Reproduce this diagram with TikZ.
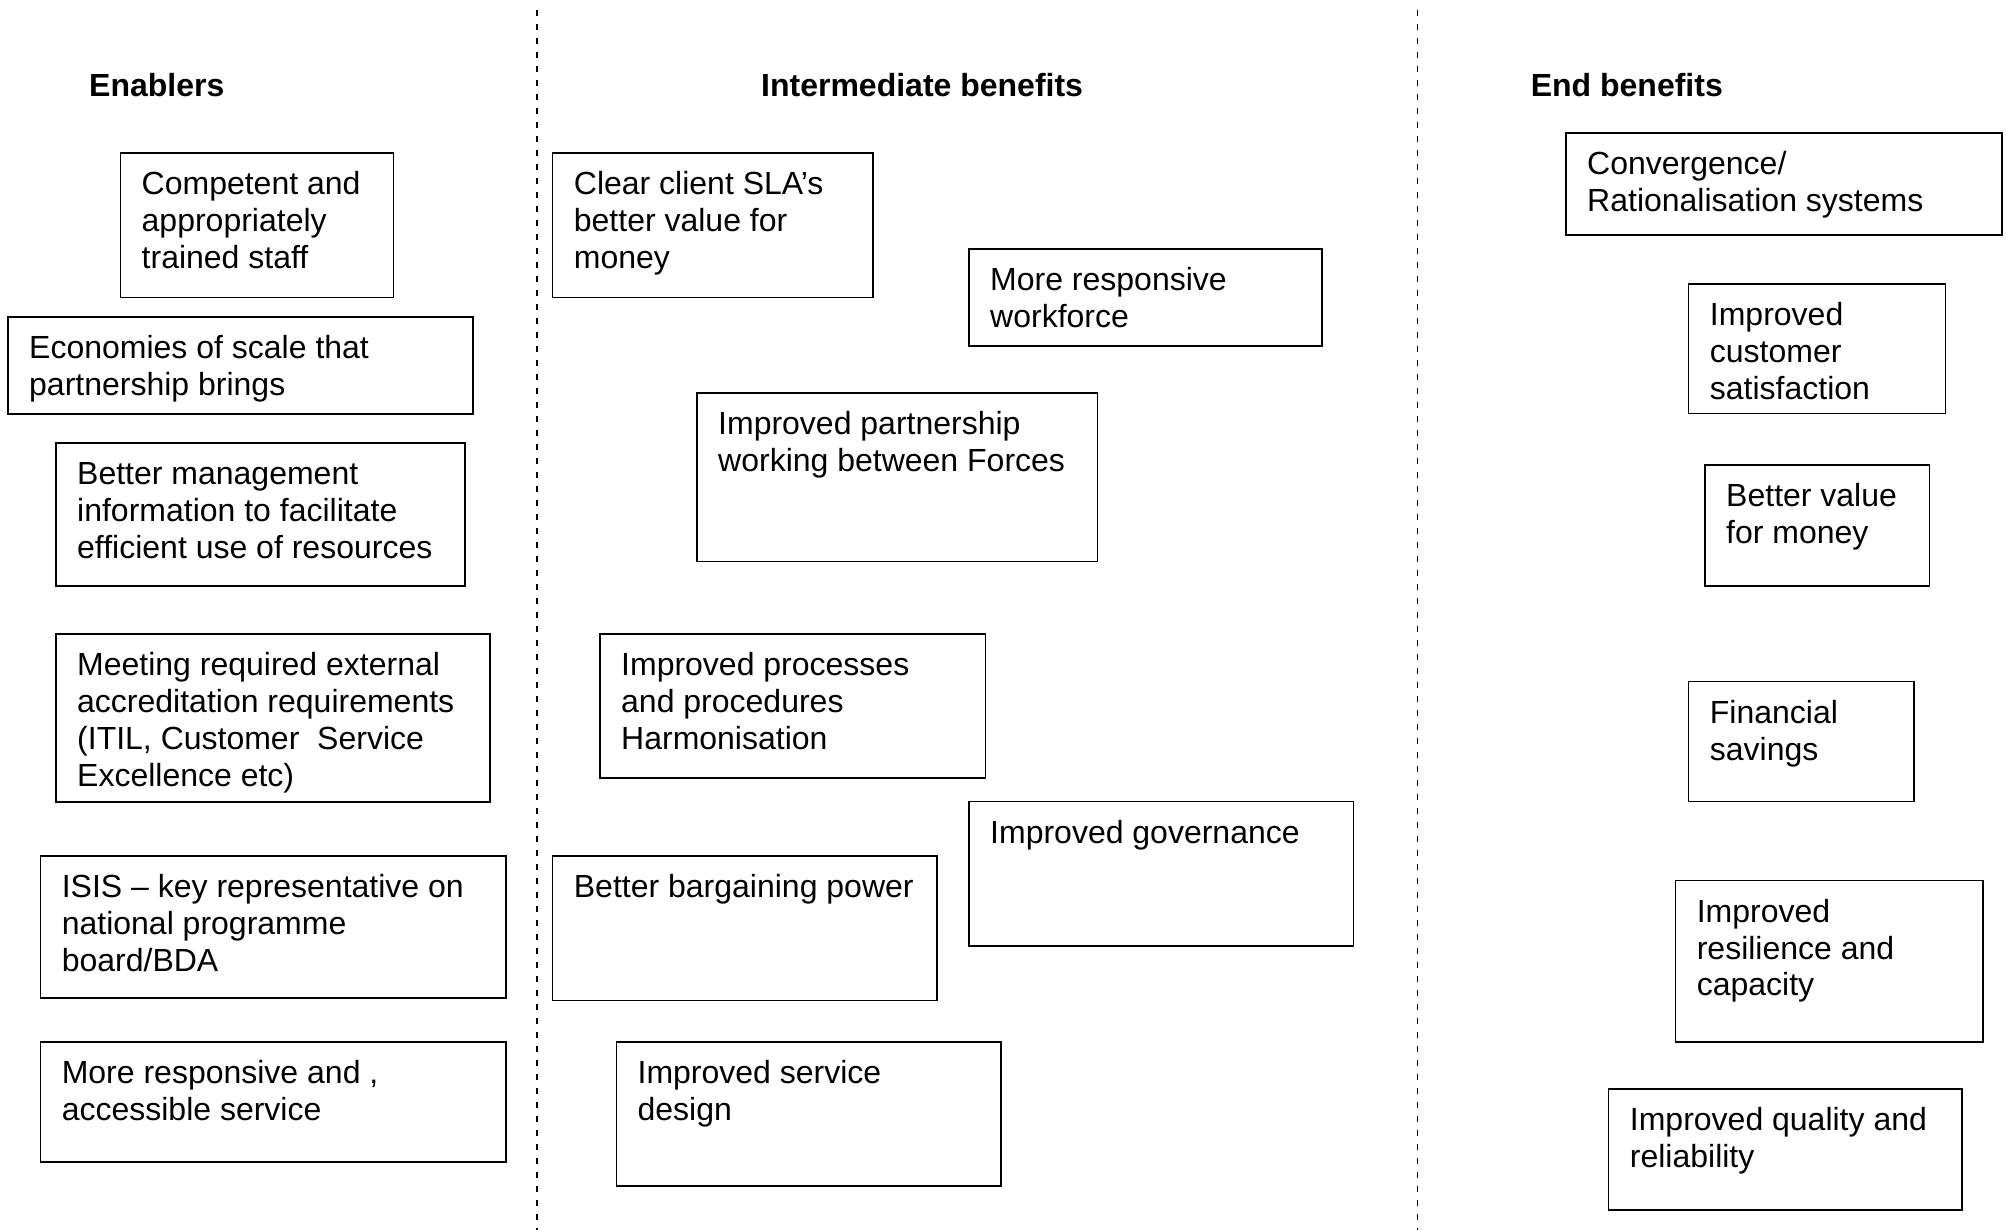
\documentclass[tikz,border=0pt]{standalone}
\usepackage{fontspec}
\setmainfont{Liberation Sans}
\begin{document}
\begin{tikzpicture}[x=1pt,y=-1pt,
  box/.style={draw, line width=1.5pt, inner sep=0pt, outer sep=0pt, anchor=north west},
  boxtext/.style={inner sep=0pt, align=left, anchor=north west,
    font=\fontsize{32}{36.8}\selectfont},
  heading/.style={inner sep=0pt, anchor=base west,
    font=\fontsize{32}{36.8}\selectfont\bfseries},
  divider/.style={line width=1.4pt, dash pattern=on 6pt off 8pt}]

% page area
\fill[white] (0,0) rectangle (2006,1230);
\useasboundingbox (0,0) rectangle (2006,1230);

% box with its text: name, left, top, right, bottom, text
% (the zero-width rule fixes the first line's height, so baselines sit alike)
\newcommand{\benefitbox}[6]{%
  \node[box, minimum width={#4-#2}, minimum height={#5-#3}] (#1) at (#2,#3) {};
  \node[boxtext] (#1-text) at (#2+21,#3+12.5) {\rule{0pt}{29pt}#6};
}

% column separators
\coordinate (sepA-top) at (537,10);
\coordinate (sepA-bot) at (537,1230);
\coordinate (sepB-top) at (1417.5,10);
\coordinate (sepB-bot) at (1417.5,1230);
\draw[divider] (sepA-top) -- (sepA-bot);
\draw[divider] (sepB-top) -- (sepB-bot);

% column headings
\node[heading] (head-enablers) at (89,97) {Enablers};
\node[heading] (head-intermediate) at (761,97) {Intermediate benefits};
\node[heading] (head-end) at (1530.6,97) {End benefits};

% enablers
\benefitbox{en1}{120.5}{153}{393.7}{297.7}{Competent and\\appropriately\\trained staff}
\benefitbox{en2}{8}{317}{473}{414}{Economies of scale that\\partnership brings}
\benefitbox{en3}{56}{443}{465}{586}{Better management\\information to facilitate\\efficient use of resources}
\benefitbox{en4}{56}{634}{490}{802}{Meeting required external\\accreditation requirements\\(ITIL, Customer~ Service\\Excellence etc)}
\benefitbox{en5}{40.6}{856}{505.8}{998}{ISIS -- key representative on\\national programme\\board/BDA}
\benefitbox{en6}{40.6}{1042}{505.8}{1162}{More responsive and ,\\accessible service}

% intermediate benefits
\benefitbox{im1}{552.7}{153}{873}{297.7}{Clear client SLA’s\\better value for\\money}
\benefitbox{im2}{969}{249}{1322}{346}{More responsive\\workforce}
\benefitbox{im3}{697}{393}{1097.5}{561.5}{Improved partnership\\working between Forces}
\benefitbox{im4}{600}{634}{985.5}{778}{Improved processes\\and procedures\\Harmonisation}
\benefitbox{im5}{969}{801.7}{1353.5}{946}{Improved governance}
\benefitbox{im6}{552.7}{856}{937}{1000.6}{Better bargaining power}
\benefitbox{im7}{616.4}{1042}{1001}{1186}{Improved service\\design}

% end benefits
\benefitbox{eb1}{1566}{133}{2001.8}{235}{Convergence/\\Rationalisation systems}
\benefitbox{eb2}{1688.7}{284}{1945.7}{413.6}{Improved\\customer\\satisfaction}
\benefitbox{eb3}{1705}{465}{1929.5}{586}{Better value\\for money}
\benefitbox{eb4}{1688.7}{681.6}{1914}{801.7}{Financial\\savings}
\benefitbox{eb5}{1675.6}{880.5}{1983}{1042}{Improved\\resilience and\\capacity}
\benefitbox{eb6}{1608.7}{1089}{1962}{1210}{Improved quality and\\reliability}

\end{tikzpicture}
\end{document}
